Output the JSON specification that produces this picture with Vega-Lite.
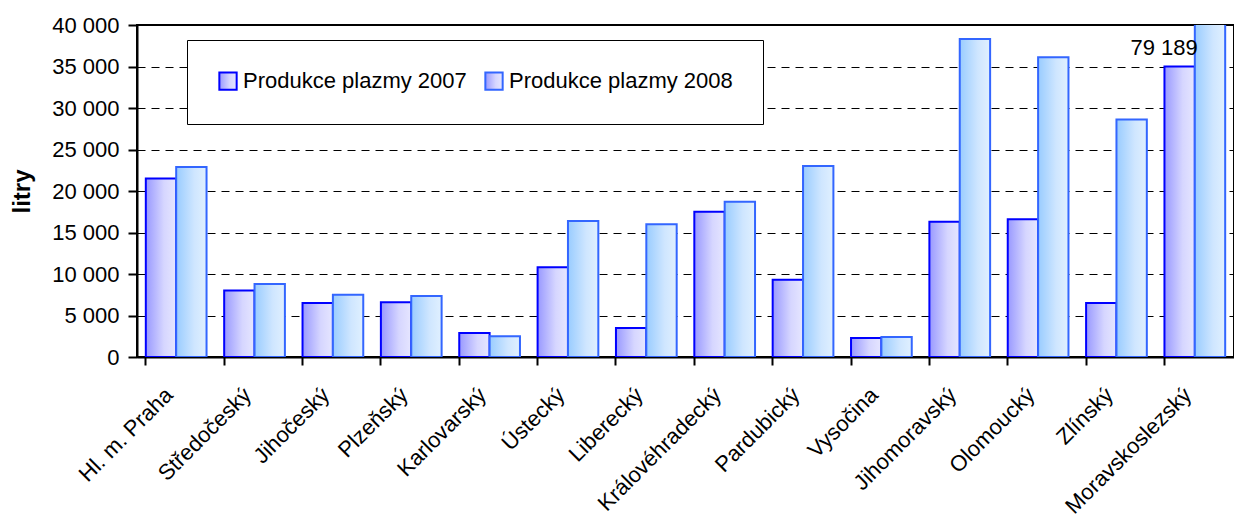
{
  "$schema": "https://vega.github.io/schema/vega-lite/v6.json",
  "autosize": {"type": "none"},
  "padding": {"left": 137, "top": 25, "right": 0, "bottom": 160},
  "width": 1097,
  "height": 332,
  "background": "white",
  "config": {
    "font": "Liberation Sans",
    "view": {"stroke": "black", "strokeWidth": 2}
  },
  "datasets": {
    "main": [
      {"kraj": "Hl. m. Praha", "serie": "Produkce plazmy 2007", "litry": 21500},
      {"kraj": "Hl. m. Praha", "serie": "Produkce plazmy 2008", "litry": 22900},
      {"kraj": "Středočeský", "serie": "Produkce plazmy 2007", "litry": 8000},
      {"kraj": "Středočeský", "serie": "Produkce plazmy 2008", "litry": 8800},
      {"kraj": "Jihočeský", "serie": "Produkce plazmy 2007", "litry": 6500},
      {"kraj": "Jihočeský", "serie": "Produkce plazmy 2008", "litry": 7500},
      {"kraj": "Plzeňský", "serie": "Produkce plazmy 2007", "litry": 6600},
      {"kraj": "Plzeňský", "serie": "Produkce plazmy 2008", "litry": 7350},
      {"kraj": "Karlovarský", "serie": "Produkce plazmy 2007", "litry": 2900},
      {"kraj": "Karlovarský", "serie": "Produkce plazmy 2008", "litry": 2500},
      {"kraj": "Ústecký", "serie": "Produkce plazmy 2007", "litry": 10800},
      {"kraj": "Ústecký", "serie": "Produkce plazmy 2008", "litry": 16400},
      {"kraj": "Liberecký", "serie": "Produkce plazmy 2007", "litry": 3500},
      {"kraj": "Liberecký", "serie": "Produkce plazmy 2008", "litry": 16000},
      {"kraj": "Královéhradecký", "serie": "Produkce plazmy 2007", "litry": 17500},
      {"kraj": "Královéhradecký", "serie": "Produkce plazmy 2008", "litry": 18700},
      {"kraj": "Pardubický", "serie": "Produkce plazmy 2007", "litry": 9300},
      {"kraj": "Pardubický", "serie": "Produkce plazmy 2008", "litry": 23000},
      {"kraj": "Vysočina", "serie": "Produkce plazmy 2007", "litry": 2300},
      {"kraj": "Vysočina", "serie": "Produkce plazmy 2008", "litry": 2400},
      {"kraj": "Jihomoravský", "serie": "Produkce plazmy 2007", "litry": 16300},
      {"kraj": "Jihomoravský", "serie": "Produkce plazmy 2008", "litry": 38300},
      {"kraj": "Olomoucký", "serie": "Produkce plazmy 2007", "litry": 16600},
      {"kraj": "Olomoucký", "serie": "Produkce plazmy 2008", "litry": 36100},
      {"kraj": "Zlínský", "serie": "Produkce plazmy 2007", "litry": 6500},
      {"kraj": "Zlínský", "serie": "Produkce plazmy 2008", "litry": 28600},
      {"kraj": "Moravskoslezský", "serie": "Produkce plazmy 2007", "litry": 35000},
      {"kraj": "Moravskoslezský", "serie": "Produkce plazmy 2008", "litry": 79189}
    ],
    "label": [
      {"kraj": "Moravskoslezský", "litry": 37200, "text": "79 189"}
    ]
  },
  "encoding": {
    "x": {
      "field": "kraj", "type": "nominal", "sort": null,
      "scale": {"paddingInner": 0.225, "paddingOuter": 0.1125},
      "axis": {
        "title": null,
        "labelAngle": -45,
        "labelAlign": "right",
        "labelBaseline": "middle",
        "labelFontSize": 22,
        "labelColor": "black",
        "labelPadding": 26,
        "labelOffset": -7,
        "labelLimit": 300,
        "bandPosition": 0,
        "ticks": true,
        "tickSize": 8,
        "tickWidth": 2,
        "tickColor": "black",
        "domainColor": "black",
        "domainWidth": 2,
        "grid": false
      }
    },
    "y": {
      "field": "litry", "type": "quantitative",
      "scale": {"domain": [0, 40000], "nice": false, "zero": true},
      "axis": {
        "title": "litry",
        "titleFontSize": 24,
        "titleFontWeight": "bold",
        "titleColor": "black",
        "titlePadding": 17,
        "values": [0, 5000, 10000, 15000, 20000, 25000, 30000, 35000, 40000],
        "labelExpr": "replace(format(datum.value, ','), ',', ' ')",
        "labelFontSize": 22,
        "labelColor": "black",
        "labelPadding": 9,
        "tickSize": 9,
        "tickWidth": 2,
        "tickColor": "black",
        "domainColor": "black",
        "domainWidth": 2,
        "grid": true,
        "gridColor": "black",
        "gridDash": [8, 6],
        "gridWidth": 1
      }
    }
  },
  "layer": [
    {
      "data": {"name": "main"},
      "transform": [{"filter": "datum.serie === 'Produkce plazmy 2007'"}],
      "mark": {
        "type": "bar", "strokeWidth": 2, "clip": true,
        "fill": {"gradient": "linear", "x1": 0, "y1": 0, "x2": 1, "y2": 0, "stops": [{"offset": 0, "color": "#9999ff"}, {"offset": 0.6, "color": "#d6d6ff"}, {"offset": 1, "color": "#e6e6ff"}]}
      },
      "encoding": {
        "xOffset": {"field": "serie", "type": "nominal", "scale": {"domain": ["Produkce plazmy 2007", "Produkce plazmy 2008"]}},
        "stroke": {
          "field": "serie", "type": "nominal",
          "scale": {"domain": ["Produkce plazmy 2007", "Produkce plazmy 2008"], "range": ["#0000ff", "#3366ff"]},
          "legend": {
            "title": null,
            "orient": "none",
            "legendX": 50,
            "legendY": 15,
            "direction": "horizontal",
            "fillColor": "white",
            "strokeColor": "black",
            "padding": 30,
            "labelFontSize": 22,
            "labelColor": "black",
            "symbolType": "square",
            "symbolSize": 300,
            "symbolStrokeWidth": 2,
            "columnPadding": 14,
            "labelOffset": 4,
            "labelLimit": 400,
            "encode": {
              "legend": {"update": {"strokeWidth": {"value": 2}}},
              "symbols": {
                "update": {
                  "fill": {"signal": "datum.value === 'Produkce plazmy 2007' ? {gradient: 'linear', x1: 0, y1: 0, x2: 1, y2: 0, stops: [{offset: 0, color: '#9999ff'}, {offset: 1, color: '#e6e6ff'}]} : {gradient: 'linear', x1: 0, y1: 0, x2: 1, y2: 0, stops: [{offset: 0, color: '#99ccff'}, {offset: 1, color: '#e0f0ff'}]}"},
                  "fillOpacity": {"value": 1}
                }
              }
            }
          }
        }
      }
    },
    {
      "data": {"name": "main"},
      "transform": [{"filter": "datum.serie === 'Produkce plazmy 2008'"}],
      "mark": {
        "type": "bar", "strokeWidth": 2, "clip": true,
        "fill": {"gradient": "linear", "x1": 0, "y1": 0, "x2": 1, "y2": 0, "stops": [{"offset": 0, "color": "#99ccff"}, {"offset": 0.6, "color": "#cfe6ff"}, {"offset": 1, "color": "#e0f0ff"}]}
      },
      "encoding": {
        "xOffset": {"field": "serie", "type": "nominal", "scale": {"domain": ["Produkce plazmy 2007", "Produkce plazmy 2008"]}},
        "stroke": {"field": "serie", "type": "nominal"}
      }
    },
    {
      "data": {"name": "label"},
      "mark": {"type": "text", "align": "right", "baseline": "middle", "fontSize": 22, "color": "black", "dx": 3},
      "encoding": {
        "y": {"field": "litry", "type": "quantitative"},
        "text": {"field": "text"}
      }
    }
  ]
}
